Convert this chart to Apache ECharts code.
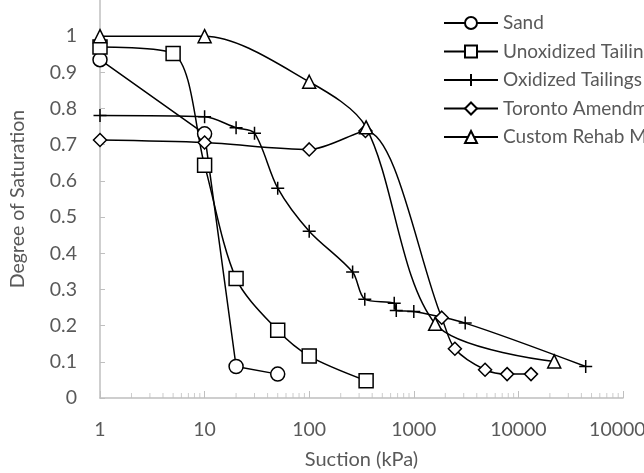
<!DOCTYPE html>
<html>
<head>
<meta charset="utf-8">
<script src="https://cdn.jsdelivr.net/npm/echarts@6/dist/echarts.min.js"></script>
<style>
  html, body { margin: 0; padding: 0; background: #fff; }
  #chart { width: 644px; height: 473px; }
</style>
</head>
<body>
<div id="chart"></div>
<script>
// Soil-water characteristic curves: degree of saturation vs. suction (kPa)
const sandSuction = [1, 10, 20, 50];
const sandSat = [0.935, 0.73, 0.087, 0.066];

const unoxSuction = [1, 5, 10, 20, 50, 100, 350];
const unoxSat = [0.97, 0.952, 0.643, 0.33, 0.187, 0.116, 0.048];

const oxSuction = [1, 10, 20, 30, 50, 100, 260, 340, 650, 680, 1000, 3100, 44000];
const oxSat = [0.781, 0.777, 0.747, 0.732, 0.58, 0.461, 0.348, 0.273, 0.262, 0.242, 0.239, 0.207, 0.087];

const torSuction = [1, 10, 100, 345, 1850, 2470, 4800, 7800, 13200];
const torSat = [0.713, 0.706, 0.687, 0.738, 0.222, 0.136, 0.078, 0.066, 0.066];

const rehabSuction = [1, 10, 100, 350, 1600, 22000];
const rehabSat = [1.0, 1.0, 0.874, 0.748, 0.205, 0.101];

const seriesNames = ['Sand', 'Unoxidized Tailings', 'Oxidized Tailings', 'Toronto Amendment', 'Custom Rehab Mix'];

// minor tick positions on the log suction axis (2..9 in each decade)
const minorTickValues = [2,3,4,5,6,7,8,9, 20,30,40,50,60,70,80,90, 200,300,400,500,600,700,800,900,
  2000,3000,4000,5000,6000,7000,8000,9000, 20000,30000,40000,50000,60000,70000,80000,90000];

const FONT = 'Lato, "Open Sans", sans-serif';
const TEXT = '#595959';
const AXIS = '#bfbfbf';
const SMOOTH = 0.3;

function pairs(xs, ys) { return xs.map((x, i) => [x, ys[i]]); }

const plusPath = 'path://M5,0 L5,10 M0,5 L10,5';

function curve(name, xs, ys, symbol, size, smooth) {
  return {
    name: name,
    type: 'line',
    data: pairs(xs, ys),
    smooth: smooth,
    symbol: symbol,
    symbolSize: size,
    showAllSymbol: true,
    lineStyle: { color: '#000', width: 1.5 },
    itemStyle: { color: '#fff', borderColor: '#000', borderWidth: 1.5 },
    emphasis: { disabled: true },
    z: 3
  };
}

const chart = echarts.init(document.getElementById('chart'), null, { renderer: 'canvas' });

chart.setOption({
  animation: false,
  backgroundColor: '#fff',
  textStyle: { fontFamily: FONT },
  grid: { left: 100, right: 21, top: 0, bottom: 75, containLabel: false, outerBoundsMode: 'none' },
  legend: {
    data: seriesNames,
    orient: 'vertical',
    left: 443,
    top: 13,
    padding: 0,
    itemWidth: 54,
    itemHeight: 15,
    itemGap: 8.5,
    textStyle: { color: TEXT, fontSize: 19, fontFamily: FONT, lineHeight: 20 },
    selectedMode: false
  },
  xAxis: {
    type: 'log',
    logBase: 10,
    min: 1,
    max: 100000,
    splitNumber: 5,
    name: 'Suction (kPa)',
    nameLocation: 'middle',
    nameGap: 52,
    nameTextStyle: { color: TEXT, fontSize: 20, fontFamily: FONT },
    axisLine: { lineStyle: { color: AXIS, width: 1.5 } },
    axisTick: { show: true, inside: true, length: 7, lineStyle: { color: AXIS, width: 1 } },
    axisLabel: {
      color: TEXT, fontSize: 19.5, fontFamily: FONT, margin: 22,
      formatter: v => String(Math.round(v))
    },
    splitLine: { show: false }
  },
  yAxis: {
    type: 'value',
    min: 0,
    max: 1.1,
    interval: 0.1,
    name: 'Degree of Saturation',
    nameLocation: 'middle',
    nameGap: 72,
    nameTextStyle: { color: TEXT, fontSize: 19.5, fontFamily: FONT },
    axisLine: { show: true, lineStyle: { color: AXIS, width: 1.5 } },
    axisTick: { show: true, inside: true, length: 5, lineStyle: { color: AXIS, width: 1 } },
    axisLabel: { color: TEXT, fontSize: 19.5, fontFamily: FONT, margin: 23, showMaxLabel: false },
    splitLine: { show: false }
  },
  series: [
    {
      name: 'minor ticks',
      type: 'scatter',
      data: minorTickValues.map(v => [v, 0]),
      symbol: 'rect',
      symbolSize: [1, 5],
      symbolOffset: [0, -2.5],
      itemStyle: { color: AXIS },
      silent: true,
      z: 1
    },
    curve(seriesNames[0], sandSuction, sandSat, 'circle', 14, false),
    curve(seriesNames[1], unoxSuction, unoxSat, 'rect', 14, SMOOTH),
    curve(seriesNames[2], oxSuction, oxSat, plusPath, 13, SMOOTH),
    curve(seriesNames[3], torSuction, torSat, 'diamond', 13, SMOOTH),
    curve(seriesNames[4], rehabSuction, rehabSat, 'triangle', 13, SMOOTH)
  ]
});
</script>
</body>
</html>
